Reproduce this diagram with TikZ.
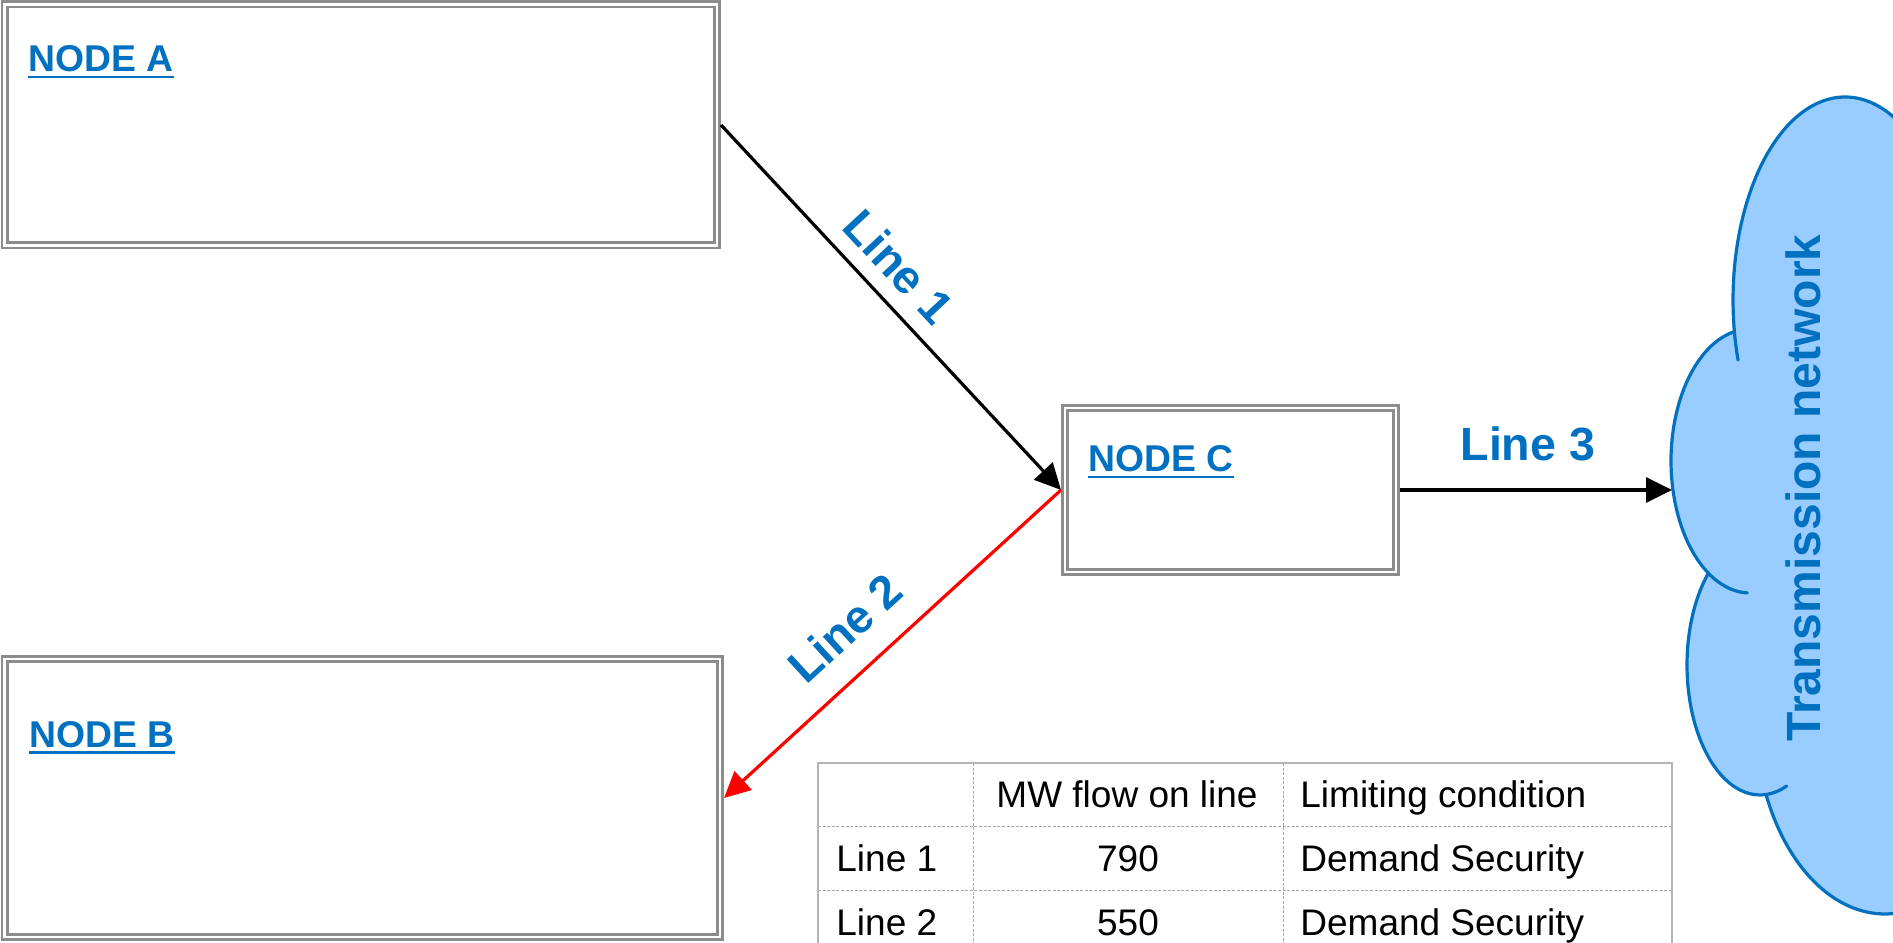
\documentclass[tikz,border=0pt]{standalone}
\usepackage{fontspec}
\setmainfont{Liberation Sans}
\usetikzlibrary{arrows.meta}
\definecolor{linkblue}{HTML}{0070C0}
\definecolor{boxgray}{HTML}{8C8C8C}
\definecolor{cloudfill}{HTML}{99CCFF}
\definecolor{gridgray}{HTML}{B4B4B4}
\definecolor{rulegray}{HTML}{A8A8A8}

\begin{document}
\begin{tikzpicture}[x=0.5pt,y=0.5pt,
  nodebox/.style={draw=boxgray, line width=1.3pt, double=white, double distance=1.4pt,
    rectangle, inner sep=0pt, outer sep=2pt},
  nodename/.style={anchor=base west, inner sep=0pt, text=linkblue,
    font=\fontsize{18.65}{22}\selectfont\bfseries},
  uline/.style={draw=linkblue, line width=1.25pt},
  flow/.style={line width=1.6pt, -{Triangle[length=13pt,width=12.5pt]}},
  linelabel/.style={inner sep=0pt, text=linkblue, font=\fontsize{23.3}{28}\selectfont\bfseries},
  cell/.style={inner sep=0pt, font=\fontsize{18.5}{22}\selectfont},
  tableframe/.style={draw=gridgray, line width=0.8pt},
  tablerule/.style={draw=rulegray, line width=0.5pt, dash pattern=on 1.5pt off 0.8pt},
  cloudline/.style={draw=linkblue, line width=1.6pt, line cap=round}]

\useasboundingbox (0,0) rectangle (1893,942);

% ---- cloud: four elliptic lobes, drawn in a top-down frame ----
\begin{scope}[y=-0.5pt, shift={(0,-942)}]
  \clip (0,0) rectangle (1893,942);
  \fill[cloudfill]
    ([shift={(1845,300)}]-60:112 and 203)
      arc[start angle=-60, end angle=-189, x radius=112, y radius=203]
    -- ([shift={(1750,461)}]-101.7:79 and 132)
      arc[start angle=-101.7, end angle=-238, x radius=79, y radius=132]
    -- ([shift={(1760,665)}]-135:73 and 130)
      arc[start angle=-135, end angle=-273.9, x radius=73, y radius=130]
    -- ([shift={(1885,714)}]156.1:130 and 200)
      arc[start angle=156.1, end angle=60, x radius=130, y radius=200]
    -- (1960,120) -- cycle;
  \draw[cloudline] ([shift={(1845,300)}]-60:112 and 203)
      arc[start angle=-60, end angle=-197.2, x radius=112, y radius=203];
  \draw[cloudline] ([shift={(1750,461)}]-101.7:79 and 132)
      arc[start angle=-101.7, end angle=-268, x radius=79, y radius=132];
  \draw[cloudline] ([shift={(1760,665)}]-135:73 and 130)
      arc[start angle=-135, end angle=-291.4, x radius=73, y radius=130];
  \draw[cloudline] ([shift={(1885,714)}]156.1:130 and 200)
      arc[start angle=156.1, end angle=60, x radius=130, y radius=200];

  % ---- table grid ----
  \draw[tablerule] (973,763) -- (973,960);
  \draw[tablerule] (1283,763) -- (1283,960);
  \draw[tablerule] (818,826.5) -- (1672,826.5);
  \draw[tablerule] (818,890.5) -- (1672,890.5);
  \draw[tableframe] (818,960) -- (818,763) -- (1672,763) -- (1672,960);
\end{scope}

\node[rotate=90, anchor=base, inner sep=0pt, text=linkblue,
  font=\fontsize{24}{28}\selectfont\bfseries] (netlab) at (1820,454) {Transmission network};
\coordinate (net) at (1672,452);

% ---- table text ----
\node[cell, anchor=base] (h2) at (1127,134) {MW flow on line};
\node[cell, anchor=base west] (h3) at (1300,134) {Limiting condition};
\node[cell, anchor=base west] (r1a) at (836,70.2) {Line 1};
\node[cell, anchor=base] (r1b) at (1128,70.2) {790};
\node[cell, anchor=base west] (r1c) at (1300,70.2) {Demand Security};
\node[cell, anchor=base west] (r2a) at (836,6.2) {Line 2};
\node[cell, anchor=base] (r2b) at (1128,6.2) {550};
\node[cell, anchor=base west] (r2c) at (1300,6.2) {Demand Security};

% ---- network nodes ----
\node[nodebox, minimum width=356.25pt, minimum height=120.5pt] (A) at (360.75,817) {};
\node[nodebox, minimum width=357.75pt, minimum height=139pt] (B) at (362.25,144) {};
\node[nodebox, minimum width=165.5pt, minimum height=82pt] (C) at (1230.5,452) {};

\node[nodename] (Alab) at (28,870) {NODE A};
\draw[uline] ([yshift=-2.5pt]Alab.base west) -- ([yshift=-2.5pt]Alab.base east);
\node[nodename] (Blab) at (29,194.5) {NODE B};
\draw[uline] ([yshift=-2.5pt]Blab.base west) -- ([yshift=-2.5pt]Blab.base east);
\node[nodename] (Clab) at (1088,470) {NODE C};
\draw[uline] ([yshift=-2.5pt]Clab.base west) -- ([yshift=-2.5pt]Clab.base east);

% ---- lines ----
\draw[flow] (A.east) -- node[linelabel, sloped, pos=0.451, above=7.5pt] {Line 1} (C.west);
\draw[flow, red] (C.west) -- node[linelabel, sloped, pos=0.553, above=12.5pt] {Line 2} (B.east);
\draw[flow] (C.east) -- node[linelabel, pos=0.47, above=13.5pt] {Line 3} (net);

\end{tikzpicture}
\end{document}
